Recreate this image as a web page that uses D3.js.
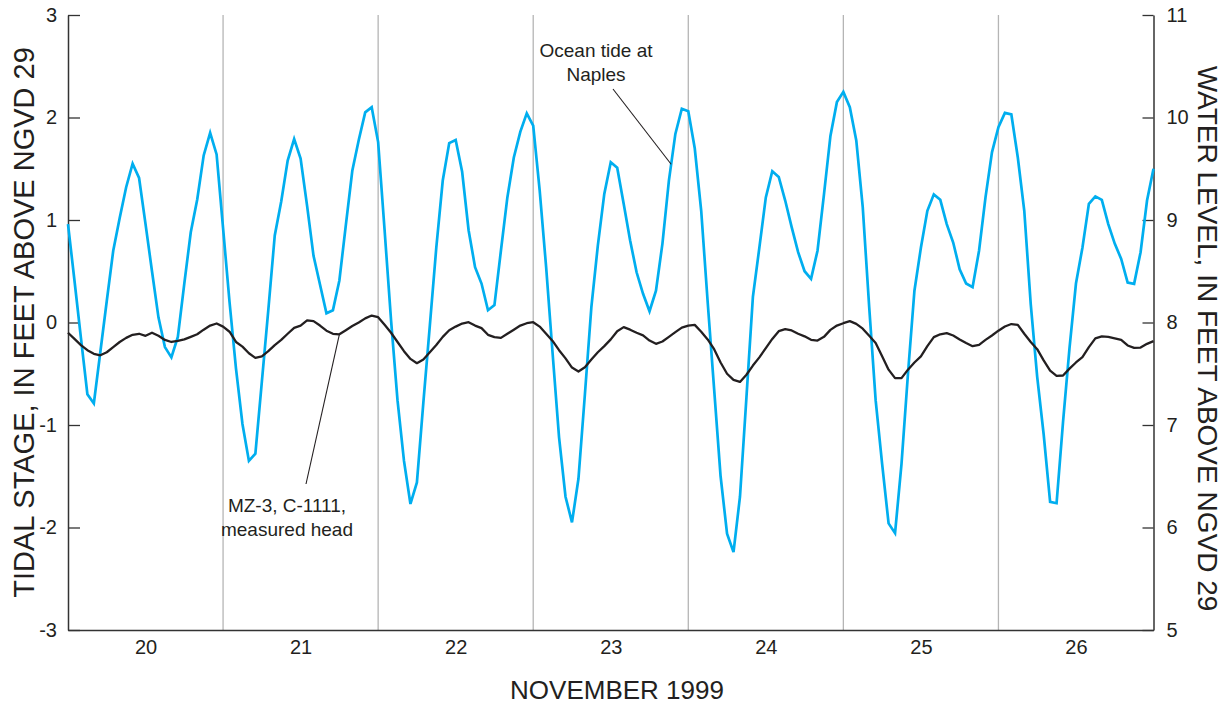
<!DOCTYPE html>
<html>
<head>
<meta charset="utf-8">
<script src="https://cdn.jsdelivr.net/npm/d3@7/dist/d3.min.js"></script>
<style>
  html, body { margin: 0; padding: 0; background: #fff; }
  svg { display: block; font-family: "Liberation Sans", Arial, Helvetica, sans-serif; }
</style>
</head>
<body>
<svg id="chart" width="1228" height="706"></svg>
<script>
// Hourly readings, 00:00 Nov 20 1999 through 00:00 Nov 27 1999
const startTime = Date.UTC(1999, 10, 20, 0);
const endTime = Date.UTC(1999, 10, 27, 0);

// Ocean tide at Naples, feet above NGVD 29 (left axis)
const tideStage = [
  0.96, 0.41, -0.15, -0.70, -0.79, -0.29, 0.21, 0.70, 1.02, 1.32,
  1.55, 1.41, 0.96, 0.50, 0.05, -0.24, -0.34, -0.14, 0.38, 0.88,
  1.20, 1.63, 1.85, 1.64, 0.92, 0.20, -0.45, -0.99, -1.35, -1.28,
  -0.58, 0.12, 0.85, 1.18, 1.58, 1.79, 1.60, 1.14, 0.65, 0.37,
  0.09, 0.12, 0.41, 0.95, 1.48, 1.78, 2.05, 2.10, 1.76, 0.90,
  0.02, -0.76, -1.35, -1.77, -1.56, -0.78, -0.03, 0.73, 1.385, 1.75,
  1.78, 1.47, 0.90, 0.54, 0.38, 0.12, 0.17, 0.70, 1.22, 1.61,
  1.86, 2.04, 1.92, 1.29, 0.54, -0.30, -1.12, -1.70, -1.95, -1.525,
  -0.70, 0.15, 0.75, 1.255, 1.564, 1.51, 1.158, 0.80, 0.49, 0.28,
  0.11, 0.31, 0.77, 1.385, 1.84, 2.085, 2.06, 1.70, 1.09, 0.20,
  -0.65, -1.50, -2.06, -2.24, -1.70, -0.73, 0.25, 0.73, 1.22, 1.476,
  1.42, 1.19, 0.93, 0.686, 0.50, 0.426, 0.70, 1.25, 1.82, 2.15,
  2.25, 2.10, 1.776, 1.125, 0.15, -0.76, -1.38, -1.96, -2.055, -1.38,
  -0.50, 0.31, 0.73, 1.09, 1.25, 1.197, 0.96, 0.78, 0.52, 0.38,
  0.345, 0.70, 1.22, 1.66, 1.905, 2.045, 2.03, 1.61, 1.09, 0.18,
  -0.53, -1.09, -1.75, -1.763, -0.97, -0.25, 0.38, 0.73, 1.158, 1.23,
  1.197, 0.96, 0.77, 0.62, 0.39, 0.377, 0.686, 1.19, 1.50
];

// MZ-3, C-1111 measured head, feet above NGVD 29 (right axis)
const headLevel = [
  7.90, 7.84, 7.78, 7.73, 7.695, 7.68, 7.71, 7.76, 7.81, 7.85,
  7.88, 7.89, 7.87, 7.90, 7.87, 7.83, 7.81, 7.82, 7.835, 7.86,
  7.885, 7.93, 7.97, 7.99, 7.96, 7.91, 7.81, 7.765, 7.70, 7.655,
  7.67, 7.72, 7.78, 7.83, 7.89, 7.948, 7.97, 8.02, 8.013, 7.97,
  7.92, 7.89, 7.885, 7.925, 7.965, 8.00, 8.04, 8.068, 8.052, 7.977,
  7.90, 7.81, 7.72, 7.645, 7.603, 7.64, 7.71, 7.78, 7.86, 7.925,
  7.96, 7.99, 8.003, 7.97, 7.945, 7.88, 7.857, 7.85, 7.89, 7.93,
  7.97, 7.993, 8.003, 7.96, 7.89, 7.82, 7.73, 7.65, 7.56, 7.522,
  7.564, 7.64, 7.71, 7.77, 7.835, 7.915, 7.955, 7.93, 7.90, 7.875,
  7.824, 7.792, 7.815, 7.86, 7.906, 7.95, 7.97, 7.977, 7.91, 7.835,
  7.74, 7.61, 7.50, 7.44, 7.42, 7.49, 7.58, 7.66, 7.75, 7.84,
  7.915, 7.935, 7.922, 7.89, 7.865, 7.831, 7.824, 7.86, 7.928, 7.97,
  7.993, 8.013, 7.987, 7.94, 7.87, 7.80, 7.67, 7.54, 7.457, 7.457,
  7.54, 7.61, 7.67, 7.77, 7.857, 7.885, 7.896, 7.873, 7.835, 7.80,
  7.769, 7.782, 7.83, 7.873, 7.92, 7.961, 7.985, 7.977, 7.89, 7.81,
  7.74, 7.63, 7.53, 7.48, 7.483, 7.55, 7.61, 7.662, 7.76, 7.845,
  7.865, 7.86, 7.845, 7.831, 7.776, 7.753, 7.755, 7.792, 7.818
];

const dayLabels = ["20", "21", "22", "23", "24", "25", "26"];
const leftTicks = [-3, -2, -1, 0, 1, 2, 3];
const rightTicks = [5, 6, 7, 8, 9, 10, 11];

const HOUR = 3600 * 1000;
const DAY = 24 * HOUR;

const svg = d3.select("#chart");
const plot = { left: 68, right: 1153.5, top: 15, bottom: 630 };

const x = d3.scaleUtc()
  .domain([new Date(startTime), new Date(endTime)])
  .range([plot.left, plot.right]);
const yLeft = d3.scaleLinear().domain([-3, 3]).range([plot.bottom, plot.top]);
const yRight = d3.scaleLinear().domain([5, 11]).range([plot.bottom, plot.top]);

const tideRows = tideStage.map((v, i) => ({ t: new Date(startTime + i * HOUR), v }));
const headRows = headLevel.map((v, i) => ({ t: new Date(startTime + i * HOUR), v }));

// Day-boundary gridlines
const boundaries = d3.range(1, dayLabels.length).map(i => new Date(startTime + i * DAY));
svg.append("g")
  .selectAll("line")
  .data(boundaries)
  .join("line")
  .attr("x1", d => x(d)).attr("x2", d => x(d))
  .attr("y1", plot.top).attr("y2", plot.bottom)
  .attr("stroke", "#b5b5b5")
  .attr("stroke-width", 1.3);

// Bottom axis: day labels centred at noon
const noons = dayLabels.map((_, i) => new Date(startTime + i * DAY + 12 * HOUR));
const xAxis = svg.append("g")
  .attr("transform", `translate(0,${plot.bottom})`)
  .call(d3.axisBottom(x)
    .tickValues(noons)
    .tickFormat((d, i) => dayLabels[i])
    .tickSize(0)
    .tickPadding(10));
xAxis.select(".domain").attr("stroke", "#333").attr("stroke-width", 1.5);
xAxis.selectAll("text").attr("font-size", 20).attr("fill", "#231f20")
  .attr("font-family", "'Liberation Sans', Arial, sans-serif");

// Left axis (tidal stage)
const leftAxis = svg.append("g")
  .attr("transform", `translate(${plot.left},0)`)
  .call(d3.axisLeft(yLeft)
    .tickValues(leftTicks)
    .tickFormat(d => String(d))
    .tickSizeInner(-12)
    .tickSizeOuter(0)
    .tickPadding(11));
leftAxis.select(".domain").attr("stroke", "#333").attr("stroke-width", 1.5);
leftAxis.selectAll(".tick line").attr("stroke", "#333").attr("stroke-width", 1.3);
leftAxis.selectAll("text").attr("font-size", 20).attr("fill", "#231f20")
  .attr("font-family", "'Liberation Sans', Arial, sans-serif");

// Right axis (water level)
const rightAxis = svg.append("g")
  .attr("transform", `translate(${plot.right},0)`)
  .call(d3.axisRight(yRight)
    .tickValues(rightTicks)
    .tickFormat(d => String(d))
    .tickSizeInner(-11)
    .tickSizeOuter(0)
    .tickPadding(13));
rightAxis.select(".domain").attr("stroke", "#333").attr("stroke-width", 1.5);
rightAxis.selectAll(".tick line").attr("stroke", "#333").attr("stroke-width", 1.3);
rightAxis.selectAll("text").attr("font-size", 20).attr("fill", "#231f20")
  .attr("font-family", "'Liberation Sans', Arial, sans-serif");

// Series lines
const tideLine = d3.line().x(d => x(d.t)).y(d => yLeft(d.v));
const headLine = d3.line().x(d => x(d.t)).y(d => yRight(d.v));

svg.append("path")
  .datum(tideRows)
  .attr("fill", "none")
  .attr("stroke", "#00aeef")
  .attr("stroke-width", 2.7)
  .attr("stroke-linejoin", "miter")
  .attr("d", tideLine);

svg.append("path")
  .datum(headRows)
  .attr("fill", "none")
  .attr("stroke", "#231f20")
  .attr("stroke-width", 2.3)
  .attr("stroke-linejoin", "round")
  .attr("d", headLine);

// Annotations with leader lines to the series
function pointOn(rows, hour) {
  const i = Math.floor(hour), f = hour - i;
  const v = rows[i].v + (rows[i + 1].v - rows[i].v) * f;
  return { t: new Date(startTime + hour * HOUR), v };
}

const tideAnchor = pointOn(tideRows, 93.35);
const headAnchor = pointOn(headRows, 42);

svg.append("line")
  .attr("x1", 613).attr("y1", 89)
  .attr("x2", x(tideAnchor.t)).attr("y2", yLeft(tideAnchor.v))
  .attr("stroke", "#231f20").attr("stroke-width", 1.1);

svg.append("line")
  .attr("x1", 306).attr("y1", 484)
  .attr("x2", x(headAnchor.t)).attr("y2", yRight(headAnchor.v))
  .attr("stroke", "#231f20").attr("stroke-width", 1.1);

const note = svg.append("g")
  .attr("font-size", 19)
  .attr("fill", "#231f20")
  .attr("text-anchor", "middle");

note.append("text").attr("x", 596).attr("y", 57).text("Ocean tide at");
note.append("text").attr("x", 596).attr("y", 81).text("Naples");
note.append("text").attr("x", 287).attr("y", 512).text("MZ-3, C-1111,");
note.append("text").attr("x", 287).attr("y", 536).text("measured head");

// Axis titles
svg.append("text")
  .attr("transform", `translate(34,${(plot.top + plot.bottom) / 2}) rotate(-90)`)
  .attr("text-anchor", "middle")
  .attr("font-size", 29)
  .attr("fill", "#231f20")
  .text("TIDAL STAGE, IN FEET ABOVE NGVD 29");

svg.append("text")
  .attr("transform", `translate(1198,${(plot.top + plot.bottom) / 2 + 16}) rotate(90)`)
  .attr("text-anchor", "middle")
  .attr("font-size", 28)
  .attr("fill", "#231f20")
  .text("WATER LEVEL, IN FEET ABOVE NGVD 29");

svg.append("text")
  .attr("x", 617)
  .attr("y", 699)
  .attr("text-anchor", "middle")
  .attr("font-size", 26)
  .attr("fill", "#231f20")
  .text("NOVEMBER 1999");
</script>
</body>
</html>
